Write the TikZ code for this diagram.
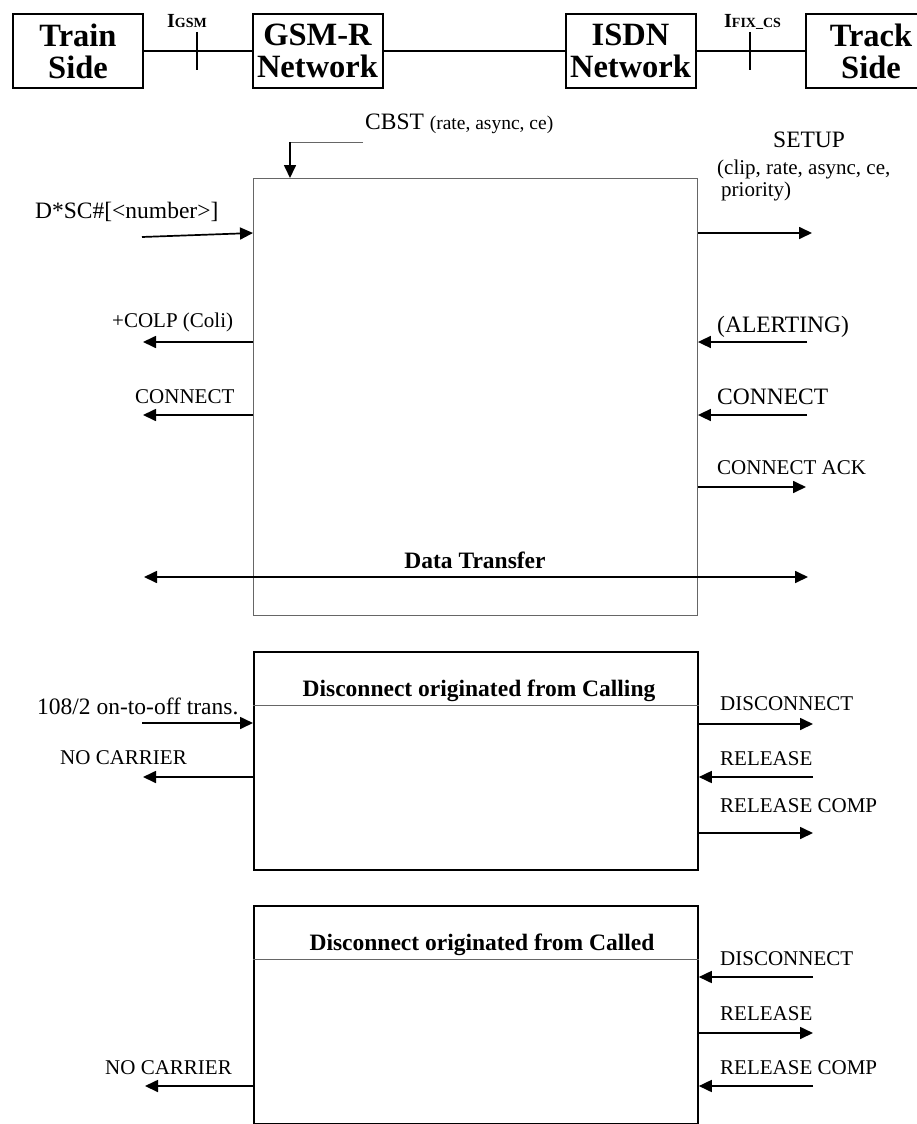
\documentclass[tikz,border=0pt]{standalone}
\usepackage{fontspec}
\setmainfont{Liberation Serif}
\usetikzlibrary{arrows.meta}
\tikzset{
 hdrbox/.style={draw, line width=2pt, minimum width=130pt, minimum height=74pt, inner sep=0pt, align=center, font=\fontsize{32.5}{32}\selectfont\bfseries},
 hline/.style={line width=2pt},
 boxone/.style={draw=black!60, line width=0.9pt, anchor=north west, minimum width=444pt, minimum height=437pt, inner sep=0pt},
 boxtwo/.style={draw, line width=1.8pt, anchor=north west, minimum width=444pt, minimum height=218pt, inner sep=0pt},
 divider/.style={draw=black!60, line width=1pt},
 msgA/.style={anchor=base west, inner sep=0pt, font=\fontsize{23.5}{26}\selectfont},
 msgB/.style={anchor=base west, inner sep=0pt, font=\fontsize{21}{24}\selectfont},
 ttl/.style={anchor=base, inner sep=0pt, font=\fontsize{23.5}{26}\selectfont\bfseries},
 ifc/.style={anchor=base west, inner sep=0pt},
 arr/.style={line width=1.7pt, -{Triangle[length=13pt,width=12pt]}},
 darr/.style={line width=1.7pt, {Triangle[length=13pt,width=12pt]}-{Triangle[length=13pt,width=12pt]}},
}
\begin{document}
\begin{tikzpicture}[x=1pt,y=-1pt]
\useasboundingbox (0,0) rectangle (917,1124);
% ---------- header ----------
\node[hdrbox] (train) at (78,51) {Train\\Side};
\node[hdrbox] (gsmr) at (317.5,51) {GSM-R\\Network};
\node[hdrbox] (isdn) at (630.5,51) {ISDN\\Network};
\node[hdrbox] (track) at (871,51) {Track\\Side};
\draw[hline] (train) -- (gsmr);
\draw[hline] (gsmr) -- (isdn);
\draw[hline] (isdn) -- (track);
\coordinate (t1a) at (197,32); \coordinate (t1b) at (197,70);
\coordinate (t2a) at (750,32); \coordinate (t2b) at (750,70);
\draw[hline] (t1a) -- (t1b);
\draw[hline] (t2a) -- (t2b);
\node[ifc] (igsm) at (167,28) {\fontsize{20}{20}\selectfont\bfseries I\fontsize{14}{14}\selectfont GSM};
\node[ifc] (ifix) at (724,28) {\fontsize{20}{20}\selectfont\bfseries I\fontsize{14}{14}\selectfont FIX\_CS};
% ---------- box 1 ----------
\node[boxone] (b1) at (253,178) {};
\node[ifc] (cbst) at (365,129) {\fontsize{23.5}{26}\selectfont CBST \fontsize{19.5}{22}\selectfont(rate, async, ce)};
\coordinate (cb1) at (363,142); \coordinate (cb2) at (290,142);
\draw[draw=black!60, line width=1pt] (cb1) -- (cb2);
\draw[arr] (cb2) -- (cb2 |- b1.north);
\node[msgA] (dsc) at (35,218) {D*SC\#[<number>]};
\coordinate (dscS) at (142,237);
\draw[arr] (dscS) -- (b1.west |- 0,233);
\node[msgA] (setup) at (773,147) {SETUP};
\node[msgB] (setupP) at (717,174) {(clip, rate, async, ce,};
\node[msgB] (setupQ) at (721,196) {priority)};
\coordinate (setupE) at (812,233);
\draw[arr] (b1.east |- setupE) -- (setupE);
\node[msgB] (colp) at (112,327) {+COLP (Coli)};
\coordinate (colpE) at (143,342);
\draw[arr] (b1.west |- colpE) -- (colpE);
\node[msgB] (conL) at (135,403) {CONNECT};
\coordinate (conLE) at (143,415);
\draw[arr] (b1.west |- conLE) -- (conLE);
\node[msgA] (alert) at (717,332) {(ALERTING)};
\coordinate (alertS) at (807,342);
\draw[arr] (alertS) -- (b1.east |- alertS);
\node[msgA] (conR) at (717,404) {CONNECT};
\coordinate (conRS) at (807,415);
\draw[arr] (conRS) -- (b1.east |- conRS);
\node[msgB] (cack) at (717,474) {CONNECT ACK};
\coordinate (cackE) at (806,487);
\draw[arr] (b1.east |- cackE) -- (cackE);
\node[ttl] (dt) at (475,568) {Data Transfer};
\coordinate (dtL) at (144,577); \coordinate (dtR) at (808,577);
\draw[darr] (dtL) -- (dtR);
% ---------- box 2 ----------
\node[boxtwo] (b2) at (253,651) {};
\draw[divider] (b2.west |- 0,705) -- (b2.east |- 0,705);
\node[ttl] (t2) at (479,696) {Disconnect originated from Calling};
\node[msgA] (onoff) at (37,714) {108/2 on-to-off trans.};
\coordinate (onoffS) at (142,723);
\draw[arr] (onoffS) -- (b2.west |- onoffS);
\node[msgB] (nc2) at (60,764) {NO CARRIER};
\coordinate (nc2E) at (143,777);
\draw[arr] (b2.west |- nc2E) -- (nc2E);
\node[msgB] (disc2) at (720,710) {DISCONNECT};
\coordinate (disc2E) at (813,724);
\draw[arr] (b2.east |- disc2E) -- (disc2E);
\node[msgB] (rel2) at (720,765) {RELEASE};
\coordinate (rel2S) at (813,777);
\draw[arr] (rel2S) -- (b2.east |- rel2S);
\node[msgB] (rc2) at (720,812) {RELEASE COMP};
\coordinate (rc2E) at (813,833);
\draw[arr] (b2.east |- rc2E) -- (rc2E);
% ---------- box 3 ----------
\node[boxtwo] (b3) at (253,905) {};
\draw[divider] (b3.west |- 0,959) -- (b3.east |- 0,959);
\node[ttl] (t3) at (482,950) {Disconnect originated from Called};
\node[msgB] (disc3) at (720,965) {DISCONNECT};
\coordinate (disc3S) at (813,977);
\draw[arr] (disc3S) -- (b3.east |- disc3S);
\node[msgB] (rel3) at (720,1020) {RELEASE};
\coordinate (rel3E) at (813,1033);
\draw[arr] (b3.east |- rel3E) -- (rel3E);
\node[msgB] (rc3) at (720,1074) {RELEASE COMP};
\coordinate (rc3S) at (813,1086);
\draw[arr] (rc3S) -- (b3.east |- rc3S);
\node[msgB] (nc3) at (105,1074) {NO CARRIER};
\coordinate (nc3E) at (145,1086);
\draw[arr] (b3.west |- nc3E) -- (nc3E);
\end{tikzpicture}
\end{document}
